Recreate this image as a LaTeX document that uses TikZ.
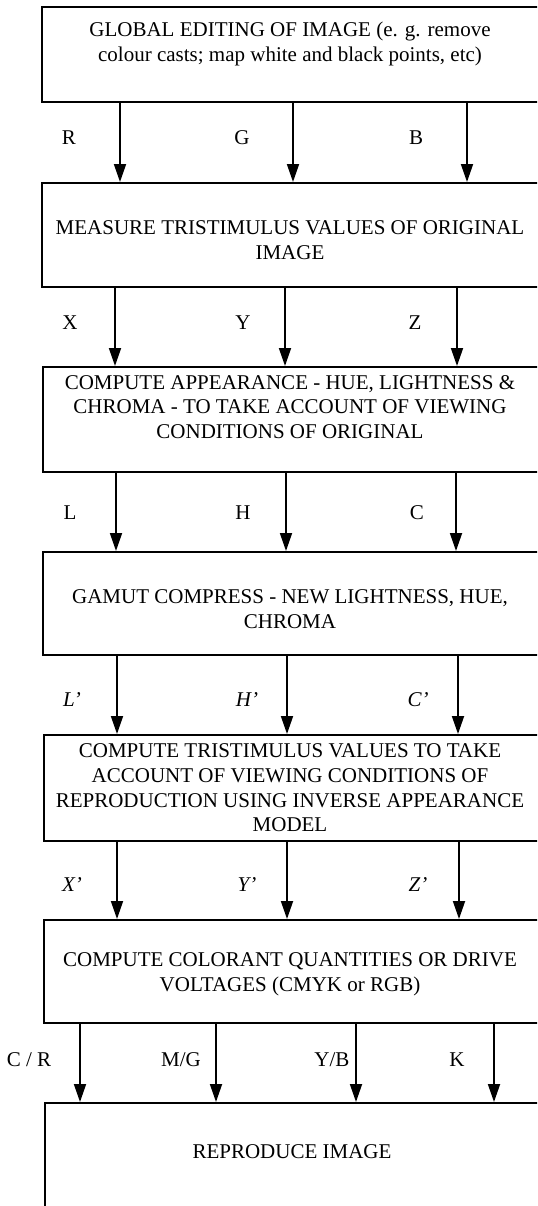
\documentclass[tikz,border=0pt]{standalone}
\usepackage{fontspec}
\setmainfont{Liberation Serif}
\usetikzlibrary{positioning,arrows.meta,fit,calc}

\begin{document}
\begin{tikzpicture}[x=0.5pt, y=-0.5pt,
      stage/.style={rectangle, draw=black, line width=1pt, inner sep=0pt},
      stagetext/.style={align=center, inner sep=0pt,
                        font=\fontsize{10.5}{12.3}\selectfont},
      chan/.style={inner sep=0pt, font=\fontsize{10.5}{12.3}\selectfont},
      flow/.style={-{Triangle[length=9pt,width=6pt]}, line width=0.9pt},
    ]
    \useasboundingbox (0,0) rectangle (537,1206);
    \clip (0,0) rectangle (537,1206);
    % boxes (right edges run off the page)
    \node[stage, fit={(42,7) (570,102)}] (b1) {};
    \node[stage, fit={(42,183) (570,287)}] (b2) {};
    \node[stage, fit={(43,367) (570,472)}] (b3) {};
    \node[stage, fit={(43,552) (570,655)}] (b4) {};
    \node[stage, fit={(44,735) (570,841)}] (b5) {};
    \node[stage, fit={(44,920) (570,1023)}] (b6) {};
    \node[stage, fit={(45,1103) (570,1240)}] (b7) {};
    \node[stagetext] (t1) at (290,44) {GLOBAL EDITING OF IMAGE (e. g. remove\\colour casts; map white and black points, etc)};
    \node[stagetext] (t2) at (290,240) {MEASURE TRISTIMULUS VALUES OF ORIGINAL\\IMAGE};
    \node[stagetext] (t3) at (290,407) {COMPUTE APPEARANCE - HUE, LIGHTNESS \&\\CHROMA - TO TAKE ACCOUNT OF VIEWING\\CONDITIONS OF ORIGINAL};
    \node[stagetext] (t4) at (290,609) {GAMUT COMPRESS - NEW LIGHTNESS, HUE,\\CHROMA};
    \node[stagetext] (t5) at (290,788) {COMPUTE TRISTIMULUS VALUES TO TAKE\\ACCOUNT OF VIEWING CONDITIONS OF\\REPRODUCTION USING INVERSE APPEARANCE\\MODEL};
    \node[stagetext] (t6) at (290,974) {COMPUTE COLORANT QUANTITIES OR DRIVE\\VOLTAGES (CMYK or RGB)};
    \node[stagetext] (t7) at (292,1152) {REPRODUCE IMAGE};
    % channels between the stages
    \foreach \x/\lx/\lab [count=\i] in {120/69/R, 293/242/G, 467/416/B} {
      \draw[flow] (\x,0 |- b1.south) -- (\x,0 |- b2.north);
      \node[chan] (c1-\i) at (\lx,138) {\lab};
    }
    \foreach \x/\lx/\lab [count=\i] in {115/70/X, 285/243/Y, 457/415/Z} {
      \draw[flow] (\x,0 |- b2.south) -- (\x,0 |- b3.north);
      \node[chan] (c2-\i) at (\lx,323) {\lab};
    }
    \foreach \x/\lx/\lab [count=\i] in {116/70/L, 286/243/H, 456/417/C} {
      \draw[flow] (\x,0 |- b3.south) -- (\x,0 |- b4.north);
      \node[chan] (c3-\i) at (\lx,513) {\lab};
    }
    \foreach \x/\lx/\lab [count=\i] in {117/72/L', 287/247/H', 458/418/C'} {
      \draw[flow] (\x,0 |- b4.south) -- (\x,0 |- b5.north);
      \node[chan] (c4-\i) at (\lx,700) {\textit{\lab}};
    }
    \foreach \x/\lx/\lab [count=\i] in {117/72/X', 287/247/Y', 459/418/Z'} {
      \draw[flow] (\x,0 |- b5.south) -- (\x,0 |- b6.north);
      \node[chan] (c5-\i) at (\lx,885) {\textit{\lab}};
    }
    \foreach \x/\lx/\lab [count=\i] in {80/29/{C / R}, 216/181/{M/G}, 356/332/{Y/B}, 494/457/K} {
      \draw[flow] (\x,0 |- b6.south) -- (\x,0 |- b7.north);
      \node[chan] (c6-\i) at (\lx,1060) {\lab};
    }
  \end{tikzpicture}
\end{document}
